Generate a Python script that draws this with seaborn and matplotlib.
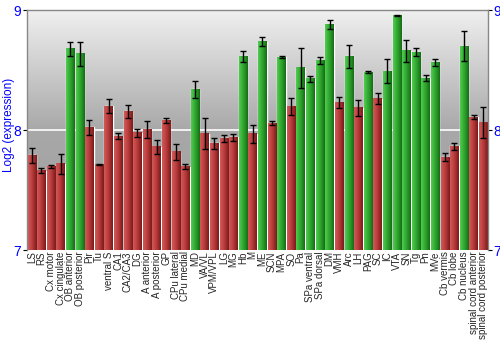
import numpy as np
import pandas as pd
import matplotlib
matplotlib.use("Agg")
import matplotlib.pyplot as plt
from matplotlib.colors import LinearSegmentedColormap
import seaborn as sns

regions = ["LS", "RS", "Cx motor", "Cx cingulate", "OB anterior", "OB posterior", "Pir", "Tu",
           "ventral S", "CA1", "CA2/CA3", "DG", "A anterior", "A posterior", "GP", "CPu lateral",
           "CPu medial", "MD", "VA/VL", "VPM/VPL", "LG", "MG", "Hb", "M", "ME", "SCN", "MPA", "SO",
           "Pa", "SPa ventral", "SPa dorsal", "DM", "VMH", "Arc", "LH", "PAG", "SC", "IC", "VTA",
           "SN", "Tg", "Pn", "MVe", "Cb vermis", "Cb lobe", "Cb nucleus", "spinal cord anterior",
           "spinal cord posterior"]
values = [7.79, 7.66, 7.695, 7.72, 8.677, 8.635, 8.022, 7.71,
          8.20, 7.95, 8.157, 7.978, 8.005, 7.86, 8.08, 7.817,
          7.695, 8.34, 7.97, 7.89, 7.93, 7.94, 8.613, 7.967, 8.737, 8.055, 8.608, 8.193,
          8.517, 8.425, 8.577, 8.878, 8.227, 8.613, 8.185, 8.48, 8.26, 8.489, 8.953,
          8.66, 8.65, 8.43, 8.564, 7.775, 7.864, 8.70, 8.108,
          8.06]
errors = [0.063, 0.02, 0.015, 0.083, 0.06, 0.1, 0.065, 0.005,
          0.062, 0.028, 0.055, 0.033, 0.073, 0.06, 0.02, 0.067,
          0.02, 0.07, 0.13, 0.046, 0.03, 0.028, 0.044, 0.077, 0.04, 0.017, 0.008, 0.072,
          0.163, 0.025, 0.03, 0.036, 0.046, 0.096, 0.066, 0.008, 0.047, 0.1, 0.006,
          0.091, 0.033, 0.025, 0.03, 0.037, 0.03, 0.126, 0.014,
          0.13]
groups = ["high" if r in ("OB anterior", "OB posterior", "MD", "Hb", "ME", "MPA", "Pa",
                          "SPa ventral", "SPa dorsal", "DM", "Arc", "PAG", "IC", "VTA", "SN",
                          "Tg", "Pn", "MVe", "Cb nucleus") else "low" for r in regions]

df = pd.DataFrame({"region": regions, "value": values, "err": errors, "group": groups})

sns.set_style("white")
plt.rcParams["font.family"] = ["Liberation Sans", "DejaVu Sans"]
fig = plt.figure(figsize=(5, 3.5), dpi=100)
ax = fig.add_axes([27/500, 100/350, 461/500, 240/350])

palette = {"low": "#b83a3a", "high": "#2ea52e"}
sns.barplot(data=df, x="region", y="value", hue="group", palette=palette, dodge=False,
            width=0.88, legend=False, ax=ax, errorbar=None, zorder=2)

n = len(regions)
YMIN, YMAX = 7, 9

# background gradient (dark at bottom, light at top)
grad = np.linspace(0, 1, 256).reshape(-1, 1)
bg_cmap = LinearSegmentedColormap.from_list("bg", ["#9e9e9e", "#a8a8a8", "#f0f0f0"])
ax.imshow(grad, cmap=bg_cmap, extent=[-0.5, n - 0.5, YMIN, YMAX], aspect="auto",
          zorder=0, origin="lower")
ax.axhline(8, color="white", lw=1.2, zorder=1)

# bar gradients
red_cmap = LinearSegmentedColormap.from_list("r", ["#d25a5a", "#b83a3a", "#7a1a1a"])
green_cmap = LinearSegmentedColormap.from_list("g", ["#50cc50", "#2ea52e", "#156c15"])
hgrad = np.linspace(0, 1, 64).reshape(1, -1)
patches = sorted([p for p in ax.patches if p.get_height() > 0], key=lambda p: p.get_x())
for p, g in zip(patches, groups):
    x0, w, h = p.get_x(), p.get_width(), p.get_height()
    top = p.get_y() + h
    im = ax.imshow(hgrad, cmap=red_cmap if g == "low" else green_cmap,
                   extent=[x0, x0 + w, YMIN, top], aspect="auto", zorder=2.5,
                   origin="lower")
    im.set_clip_path(p)
    im.set_clip_box(ax.bbox)

ax.set_xlim(-0.5, n - 0.5)
ax.set_ylim(YMIN, YMAX)

ax.errorbar(np.arange(n), df["value"], yerr=df["err"], fmt="none",
            ecolor="black", elinewidth=1, capsize=2, capthick=1, zorder=4)

ax.set_xlabel("")
ax.set_ylabel("Log2 (expression)", color="blue", fontsize=8.5)
ax.yaxis.set_label_coords(-0.026, 0.52)
ax.set_yticks([7, 8, 9])
ax.set_yticklabels(["7", "8", "9"])
ax.tick_params(axis="y", colors="black", labelcolor="blue", labelsize=10, length=3,
               left=True, right=True, labelleft=True, labelright=True, pad=1)
ax.tick_params(axis="x", labelsize=7, length=0, pad=1)
plt.setp(ax.get_xticklabels(), rotation=90)

for s in ["top", "right", "left"]:
    ax.spines[s].set_color("#888888")
    ax.spines[s].set_linewidth(1)
ax.spines["bottom"].set_visible(False)

fig.savefig("out.png", dpi=100)
